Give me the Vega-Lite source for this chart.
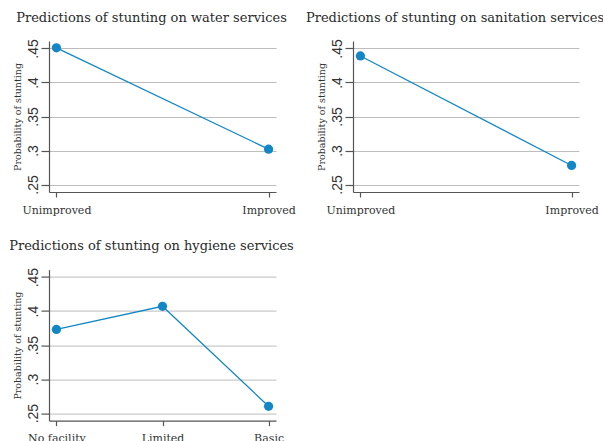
{
  "$schema": "https://vega.github.io/schema/vega-lite/v6.json",
  "background": "white",
  "padding": {"left": 9, "top": 11, "right": 5, "bottom": 5},
  "bounds": "flush",
  "columns": 2,
  "spacing": {"row": 77.6, "column": 77},
  "datasets": {
    "water": [
      {"level": "Unimproved", "prob": 0.451},
      {"level": "Improved", "prob": 0.302}
    ],
    "sanitation": [
      {"level": "Unimproved", "prob": 0.439},
      {"level": "Improved", "prob": 0.278}
    ],
    "hygiene": [
      {"level": "No facility", "prob": 0.373},
      {"level": "Limited", "prob": 0.407},
      {"level": "Basic", "prob": 0.26}
    ]
  },
  "config": {
    "view": {"stroke": null},
    "title": {
      "font": "DejaVu Serif",
      "fontSize": 13,
      "fontWeight": "normal",
      "color": "#2a2a2a",
      "anchor": "middle",
      "dx": -11,
      "offset": 14
    },
    "axis": {
      "domainColor": "#555555",
      "domainWidth": 1.2,
      "tickColor": "#555555",
      "tickWidth": 1.2,
      "gridColor": "#bdbdbd",
      "gridWidth": 1,
      "labelColor": "#333333",
      "titleColor": "#333333"
    },
    "axisX": {
      "grid": false,
      "labelAngle": 0,
      "labelFont": "DejaVu Serif",
      "labelFontSize": 11,
      "labelPadding": 7,
      "tickSize": 5
    },
    "axisY": {
      "titleFont": "DejaVu Serif",
      "titleFontSize": 9.5,
      "titleFontWeight": "normal",
      "titlePadding": 4,
      "grid": true,
      "values": [0.25, 0.3, 0.35, 0.4, 0.45],
      "labelExpr": "slice(format(datum.value, '.2~f'), 1)",
      "labelFont": "Liberation Sans",
      "labelFontSize": 14,
      "labelAngle": -90,
      "labelAlign": "center",
      "labelBaseline": "alphabetic",
      "labelPadding": 4,
      "tickSize": 8
    }
  },
  "concat": [
    {
      "title": "Predictions of stunting on water services",
      "width": 227,
      "height": 151,
      "data": {"name": "water"},
      "mark": {
        "type": "line",
        "color": "#1387c5",
        "strokeWidth": 1.3,
        "point": {"filled": true, "size": 85, "color": "#1387c5", "opacity": 1}
      },
      "encoding": {
        "x": {
          "field": "level",
          "type": "ordinal",
          "sort": ["Unimproved", "Improved"],
          "scale": {"type": "point", "padding": 0.035},
          "axis": {"title": null}
        },
        "y": {
          "field": "prob",
          "type": "quantitative",
          "scale": {"domain": [0.239, 0.461], "nice": false, "zero": false},
          "axis": {"title": "Probability of stunting"}
        }
      }
    },
    {
      "title": "Predictions of stunting on sanitation services",
      "width": 226,
      "height": 151,
      "data": {"name": "sanitation"},
      "mark": {
        "type": "line",
        "color": "#1387c5",
        "strokeWidth": 1.3,
        "point": {"filled": true, "size": 85, "color": "#1387c5", "opacity": 1}
      },
      "encoding": {
        "x": {
          "field": "level",
          "type": "ordinal",
          "sort": ["Unimproved", "Improved"],
          "scale": {"type": "point", "padding": 0.035},
          "axis": {"title": null}
        },
        "y": {
          "field": "prob",
          "type": "quantitative",
          "scale": {"domain": [0.239, 0.461], "nice": false, "zero": false},
          "axis": {"title": "Probability of stunting"}
        }
      }
    },
    {
      "title": "Predictions of stunting on hygiene services",
      "width": 227,
      "height": 151,
      "data": {"name": "hygiene"},
      "mark": {
        "type": "line",
        "color": "#1387c5",
        "strokeWidth": 1.3,
        "point": {"filled": true, "size": 85, "color": "#1387c5", "opacity": 1}
      },
      "encoding": {
        "x": {
          "field": "level",
          "type": "ordinal",
          "sort": ["No facility", "Limited", "Basic"],
          "scale": {"type": "point", "padding": 0.07},
          "axis": {"title": null}
        },
        "y": {
          "field": "prob",
          "type": "quantitative",
          "scale": {"domain": [0.239, 0.461], "nice": false, "zero": false},
          "axis": {"title": "Probability of stunting"}
        }
      }
    }
  ]
}
